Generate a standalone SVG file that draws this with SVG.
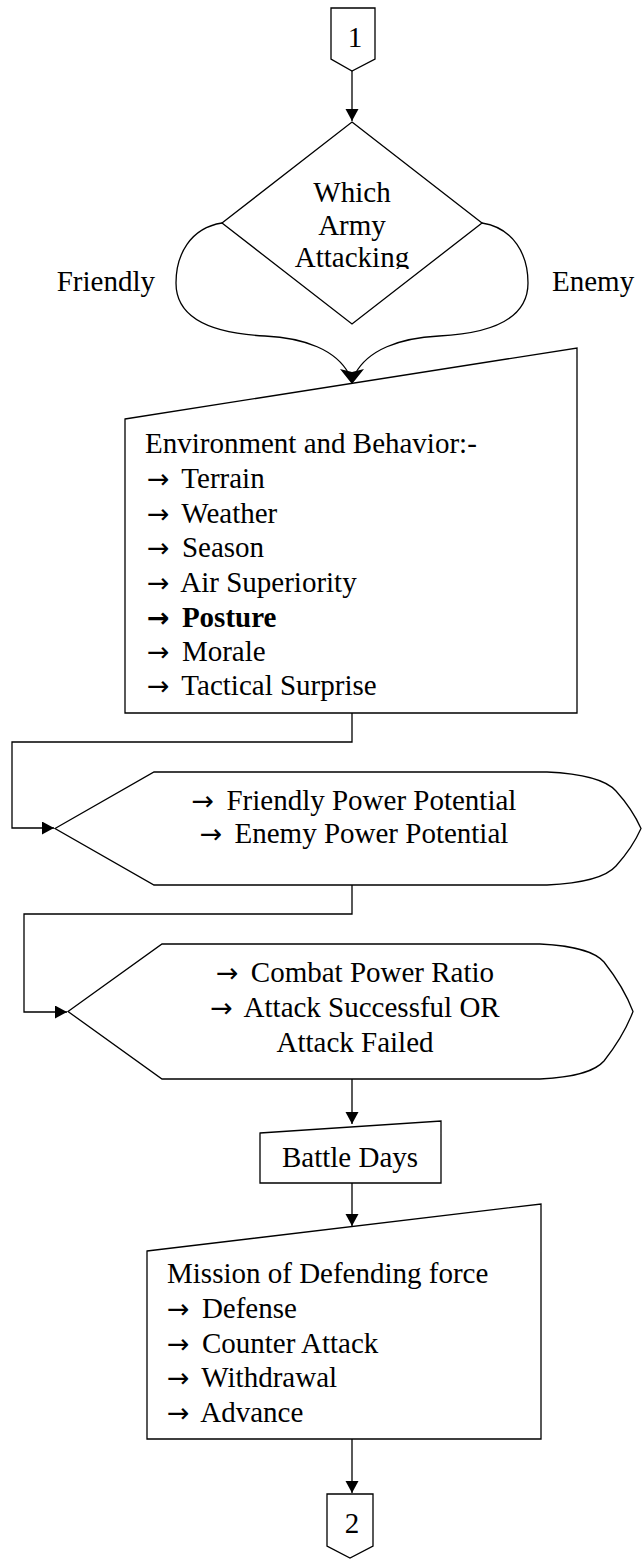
<svg xmlns="http://www.w3.org/2000/svg" width="643" height="1560" viewBox="0 0 643 1560">
<style>
.s{fill:#fff;stroke:#000;stroke-width:1.3}
.l{fill:none;stroke:#000;stroke-width:1.3}
.h{fill:#000;stroke:none}
text{font-family:"Liberation Serif","Times New Roman",serif;font-size:29px;fill:#000}
.a{font-family:"DejaVu Sans","Liberation Sans",sans-serif;font-size:27px}
.c{text-anchor:middle}
.b{font-weight:bold}
</style>
<defs>
<marker id="ar" markerUnits="userSpaceOnUse" markerWidth="14" markerHeight="14" refX="12" refY="6.5" orient="auto">
<path d="M0,0 L12,6.5 L0,13 z" fill="#000"/>
</marker>
<clipPath id="dclip"><rect x="200" y="150" width="300" height="119"/></clipPath>
</defs>

<g id="connectors">
<line class="l" x1="352" y1="71" x2="352" y2="121" marker-end="url(#ar)"/>
<path class="l" d="M222,223 C190,228 176,255 176,283 C176,315 205,333 265,336 C305,338 336,350 349,374"/>
<path class="l" d="M482,223 C514,228 528,255 528,283 C528,315 499,333 439,336 C399,338 368,350 355,374"/>
<polygon class="h" points="340,369 352,372 364,369 352,384"/>
<polyline class="l" points="352,713 352,742 12,742 12,828 54,828" marker-end="url(#ar)"/>
<polyline class="l" points="352,885 352,914 24,914 24,1012 67,1012" marker-end="url(#ar)"/>
<line class="l" x1="352" y1="1079" x2="352" y2="1124" marker-end="url(#ar)"/>
<line class="l" x1="352" y1="1183" x2="352" y2="1226" marker-end="url(#ar)"/>
<line class="l" x1="352" y1="1439" x2="352" y2="1493" marker-end="url(#ar)"/>
</g>

<g id="start-connector">
<polygon class="s" points="331,8 375,8 375,59 352,71 331,59"/>
<text class="c" x="355" y="47">1</text>
</g>

<g id="decision">
<polygon class="s" points="352,122 482,223 352,324 222,223"/>
<g clip-path="url(#dclip)">
<text class="c" x="352" y="202">Which</text>
<text class="c" x="352" y="235">Army</text>
<text class="c" x="352" y="267">Attacking</text>
</g>
</g>

<g id="label-friendly"><text x="155" y="291" text-anchor="end">Friendly</text></g>
<g id="label-enemy"><text x="552" y="291">Enemy</text></g>

<g id="environment">
<polygon class="s" points="125,419 577,348 577,713 125,713"/>
<text x="145" y="453">Environment and Behavior:-</text>
<text x="147" y="488"><tspan class="a">→</tspan><tspan dx="5"> Terrain</tspan></text>
<text x="147" y="523"><tspan class="a">→</tspan><tspan dx="5"> Weather</tspan></text>
<text x="147" y="557"><tspan class="a">→</tspan><tspan dx="5"> Season</tspan></text>
<text x="147" y="592"><tspan class="a">→</tspan><tspan dx="5"> Air Superiority</tspan></text>
<text x="147" y="627" class="b"><tspan class="a">→</tspan><tspan dx="5"> Posture</tspan></text>
<text x="147" y="661"><tspan class="a">→</tspan><tspan dx="5"> Morale</tspan></text>
<text x="147" y="695"><tspan class="a">→</tspan><tspan dx="5"> Tactical Surprise</tspan></text>
</g>

<g id="power-potential">
<path class="s" d="M55,828.5 L154,772 L547,772 C590,774 608,782 616,791 C625,801 635,815 641,828.5 C635,842 625,856 616,866 C608,875 590,883 547,885 L154,885 Z"/>
<text class="c" x="354" y="810"><tspan class="a">→</tspan><tspan dx="5"> Friendly Power Potential</tspan></text>
<text class="c" x="354" y="843"><tspan class="a">→</tspan><tspan dx="5"> Enemy Power Potential</tspan></text>
</g>

<g id="combat-ratio">
<path class="s" d="M68,1011.5 L162,944 L540,944 C580,946 596,953 604,962 C615,976 626,993 633,1011.5 C626,1030 615,1047 604,1061 C596,1070 580,1077 540,1079 L162,1079 Z"/>
<text class="c" x="355" y="982"><tspan class="a">→</tspan><tspan dx="5"> Combat Power Ratio</tspan></text>
<text class="c" x="355" y="1017"><tspan class="a">→</tspan><tspan dx="5"> Attack Successful OR</tspan></text>
<text class="c" x="355" y="1052">Attack Failed</text>
</g>

<g id="battle-days">
<polygon class="s" points="260,1133 441,1121 441,1183 260,1183"/>
<text class="c" x="350" y="1167">Battle Days</text>
</g>

<g id="mission">
<polygon class="s" points="147,1251 541,1204 541,1439 147,1439"/>
<text x="167" y="1283">Mission of Defending force</text>
<text x="167" y="1318"><tspan class="a">→</tspan><tspan dx="5"> Defense</tspan></text>
<text x="167" y="1353"><tspan class="a">→</tspan><tspan dx="5"> Counter Attack</tspan></text>
<text x="167" y="1387"><tspan class="a">→</tspan><tspan dx="5"> Withdrawal</tspan></text>
<text x="167" y="1422"><tspan class="a">→</tspan><tspan dx="5"> Advance</tspan></text>
</g>

<g id="end-connector">
<polygon class="s" points="327,1494 373,1494 373,1546 350,1558 327,1546"/>
<text class="c" x="352" y="1533">2</text>
</g>
</svg>
